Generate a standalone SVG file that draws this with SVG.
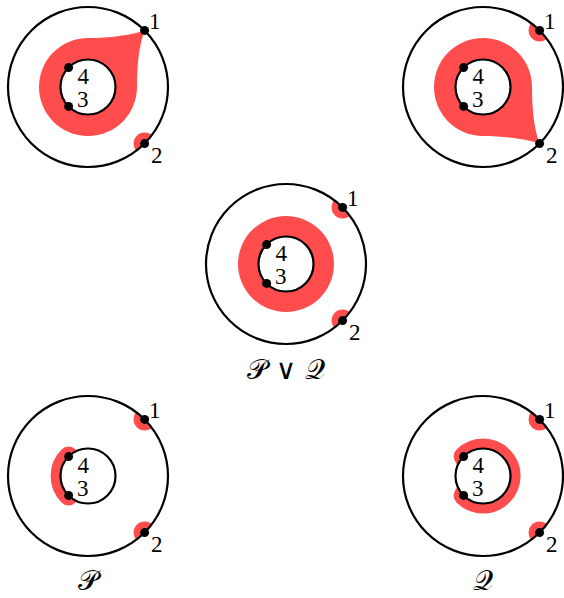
<svg xmlns="http://www.w3.org/2000/svg" width="564" height="598" viewBox="0 0 564 598">
<style>
.outer{fill:none;stroke:#000;stroke-width:2.2}
.inner{fill:#fff;stroke:#000;stroke-width:2.2}
.red{fill:#ff4d4d}
.redarc{fill:none;stroke:#ff4d4d;stroke-width:20;stroke-linecap:round}
.dot{fill:#000}
.lbl{font-family:"Liberation Serif","Times New Roman",serif;font-size:23px;fill:#000}
.cap{font-family:"DejaVu Serif","DejaVu Sans",serif;font-size:28px;fill:#000}
</style>
<defs>
<clipPath id="oc" clipPathUnits="userSpaceOnUse"><circle cx="0" cy="0" r="80"/></clipPath>
</defs>
<rect width="564" height="598" fill="#fff"/>

<g id="tl" transform="translate(88,87)">
<path class="red" d="M56.6,-56.6 C42,-52 22,-49 0,-49 A49,49 0 1 0 49,0 C49,-22 51,-42 56.6,-56.6 Z"/>
<circle class="red" cx="56.6" cy="56.6" r="11" clip-path="url(#oc)"/>
<circle class="outer" r="80"/>
<circle class="inner" r="27.5"/>
<circle class="dot" cx="56.6" cy="-56.6" r="4.5"/>
<circle class="dot" cx="56.6" cy="56.6" r="4.5"/>
<circle class="dot" cx="-19.4" cy="-19.4" r="4.5"/>
<circle class="dot" cx="-19.4" cy="19.4" r="4.5"/>
<text class="lbl" x="61" y="-58.5">1</text>
<text class="lbl" x="63" y="75.5">2</text>
<text class="lbl" x="-10.5" y="-3.5">4</text>
<text class="lbl" x="-11" y="19.5">3</text>
</g>

<g id="tr" transform="translate(483,87)">
<path class="red" d="M56.6,56.6 C42,52 22,49 0,49 A49,49 0 1 1 49,0 C49,22 51,42 56.6,56.6 Z"/>
<circle class="red" cx="56.6" cy="-56.6" r="11" clip-path="url(#oc)"/>
<circle class="outer" r="80"/>
<circle class="inner" r="27.5"/>
<circle class="dot" cx="56.6" cy="-56.6" r="4.5"/>
<circle class="dot" cx="56.6" cy="56.6" r="4.5"/>
<circle class="dot" cx="-19.4" cy="-19.4" r="4.5"/>
<circle class="dot" cx="-19.4" cy="19.4" r="4.5"/>
<text class="lbl" x="61" y="-58.5">1</text>
<text class="lbl" x="63" y="75.5">2</text>
<text class="lbl" x="-10.5" y="-3.5">4</text>
<text class="lbl" x="-11" y="19.5">3</text>
</g>

<g id="mid" transform="translate(286,264)">
<circle class="red" r="48"/>
<circle class="red" cx="56.6" cy="-56.6" r="11" clip-path="url(#oc)"/>
<circle class="red" cx="56.6" cy="56.6" r="11" clip-path="url(#oc)"/>
<circle class="outer" r="80"/>
<circle class="inner" r="27.5"/>
<circle class="dot" cx="56.6" cy="-56.6" r="4.5"/>
<circle class="dot" cx="56.6" cy="56.6" r="4.5"/>
<circle class="dot" cx="-19.4" cy="-19.4" r="4.5"/>
<circle class="dot" cx="-19.4" cy="19.4" r="4.5"/>
<text class="lbl" x="61" y="-58.5">1</text>
<text class="lbl" x="63" y="75.5">2</text>
<text class="lbl" x="-10.5" y="-3.5">4</text>
<text class="lbl" x="-11" y="19.5">3</text>
<text class="cap" x="0" y="115" text-anchor="middle">𝒫 ∨ 𝒬</text>
</g>

<g id="bl" transform="translate(88,476)">
<path class="redarc" d="M-19.4,-19.4 A27.5,27.5 0 0 0 -19.4,19.4"/>
<circle class="red" cx="56.6" cy="-56.6" r="11" clip-path="url(#oc)"/>
<circle class="red" cx="56.6" cy="56.6" r="11" clip-path="url(#oc)"/>
<circle class="outer" r="80"/>
<circle class="inner" r="27.5"/>
<circle class="dot" cx="56.6" cy="-56.6" r="4.5"/>
<circle class="dot" cx="56.6" cy="56.6" r="4.5"/>
<circle class="dot" cx="-19.4" cy="-19.4" r="4.5"/>
<circle class="dot" cx="-19.4" cy="19.4" r="4.5"/>
<text class="lbl" x="61" y="-58.5">1</text>
<text class="lbl" x="63" y="75.5">2</text>
<text class="lbl" x="-10.5" y="-3.5">4</text>
<text class="lbl" x="-11" y="19.5">3</text>
<text class="cap" x="0" y="114" text-anchor="middle">𝒫</text>
</g>

<g id="br" transform="translate(483,476)">
<path class="redarc" d="M-19.4,-19.4 A27.5,27.5 0 1 1 -19.4,19.4"/>
<circle class="red" cx="56.6" cy="-56.6" r="11" clip-path="url(#oc)"/>
<circle class="red" cx="56.6" cy="56.6" r="11" clip-path="url(#oc)"/>
<circle class="outer" r="80"/>
<circle class="inner" r="27.5"/>
<circle class="dot" cx="56.6" cy="-56.6" r="4.5"/>
<circle class="dot" cx="56.6" cy="56.6" r="4.5"/>
<circle class="dot" cx="-19.4" cy="-19.4" r="4.5"/>
<circle class="dot" cx="-19.4" cy="19.4" r="4.5"/>
<text class="lbl" x="61" y="-58.5">1</text>
<text class="lbl" x="63" y="75.5">2</text>
<text class="lbl" x="-10.5" y="-3.5">4</text>
<text class="lbl" x="-11" y="19.5">3</text>
<text class="cap" x="0" y="114" text-anchor="middle">𝒬</text>
</g>
<g id="connectors"></g>
</svg>
